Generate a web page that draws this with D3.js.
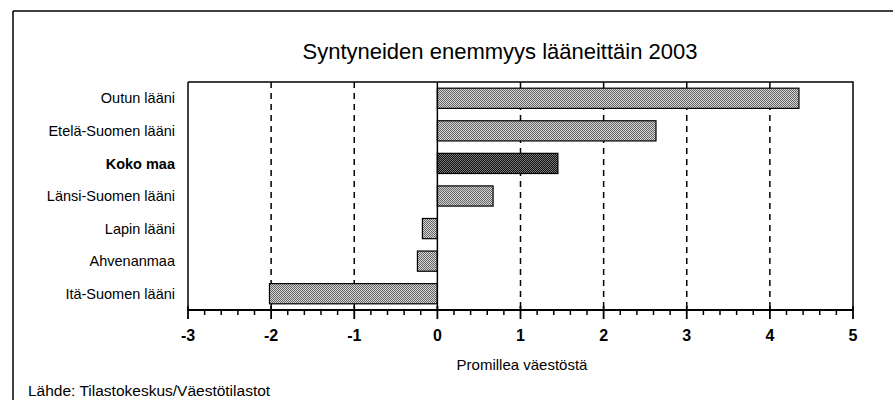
<!DOCTYPE html>
<html>
<head>
<meta charset="utf-8">
<script src="https://cdn.jsdelivr.net/npm/d3@7"></script>
<style>
  html, body { margin: 0; padding: 0; background: #fff; }
  text { font-family: "Liberation Sans", Arial, sans-serif; fill: #000; }
</style>
</head>
<body>
<svg id="chart" width="893" height="400"></svg>
<script>
// Regions and their natural increase (births minus deaths), per mille of population
const categories = ["Outun lääni", "Etelä-Suomen lääni", "Koko maa", "Länsi-Suomen lääni", "Lapin lääni", "Ahvenanmaa", "Itä-Suomen lääni"];
const values = [4.35, 2.63, 1.45, 0.67, -0.18, -0.24, -2.02];
const highlighted = ["Koko maa"];
const xTicks = [-3, -2, -1, 0, 1, 2, 3, 4, 5];
const titleText = "Syntyneiden enemmyys lääneittäin 2003";
const axisTitle = "Promillea väestöstä";
const sourceText = "Lähde: Tilastokeskus/Väestötilastot";

const svg = d3.select("#chart");
const plot = { left: 188, right: 853, top: 82, bottom: 310 };

// Stippled fills for the bars
const defs = svg.append("defs");
function stipple(id, bg, dot) {
  const p = defs.append("pattern").attr("id", id)
    .attr("width", 2).attr("height", 2).attr("patternUnits", "userSpaceOnUse");
  p.append("rect").attr("width", 2).attr("height", 2).attr("fill", bg);
  p.append("rect").attr("width", 1).attr("height", 1).attr("fill", dot);
  p.append("rect").attr("x", 1).attr("y", 1).attr("width", 1).attr("height", 1).attr("fill", dot);
}
stipple("lightDots", "#d4d4d4", "#666666");
stipple("darkDots", "#111111", "#777777");

// Outer frame (top and left edges)
svg.append("line").attr("x1", 13).attr("x2", 893).attr("y1", 11).attr("y2", 11)
  .attr("stroke", "#000").attr("stroke-width", 1.5);
svg.append("line").attr("x1", 13).attr("x2", 13).attr("y1", 11).attr("y2", 400)
  .attr("stroke", "#000").attr("stroke-width", 1.5);

const x = d3.scaleLinear().domain([xTicks[0], xTicks[xTicks.length - 1]]).range([plot.left, plot.right]);
const y = d3.scaleBand().domain(categories).range([plot.top, plot.bottom]).paddingInner(0.38).paddingOuter(0.19);

// Dashed gridlines
svg.append("g").selectAll("line")
  .data(xTicks.filter(t => t !== 0 && t !== xTicks[0] && t !== xTicks[xTicks.length - 1]))
  .join("line")
  .attr("x1", d => x(d)).attr("x2", d => x(d))
  .attr("y1", plot.top).attr("y2", plot.bottom)
  .attr("stroke", "#000").attr("stroke-width", 1.5)
  .attr("stroke-dasharray", "6,5");

// Plot frame: top and right edges
svg.append("path")
  .attr("d", `M${plot.left},${plot.top}H${plot.right}V${plot.bottom}`)
  .attr("fill", "none").attr("stroke", "#000").attr("stroke-width", 1.5);

// Bars
svg.append("g").selectAll("rect")
  .data(categories.map((c, i) => ({ c, v: values[i] })))
  .join("rect")
  .attr("x", d => x(Math.min(0, d.v)))
  .attr("width", d => Math.abs(x(d.v) - x(0)))
  .attr("y", d => y(d.c))
  .attr("height", y.bandwidth())
  .attr("fill", d => highlighted.includes(d.c) ? "url(#darkDots)" : "url(#lightDots)")
  .attr("stroke", "#000").attr("stroke-width", 1.2);

// Zero line
svg.append("line").attr("x1", x(0)).attr("x2", x(0))
  .attr("y1", plot.top).attr("y2", plot.bottom)
  .attr("stroke", "#000").attr("stroke-width", 1.5);

// Category labels
svg.append("g").selectAll("text")
  .data(categories)
  .join("text")
  .attr("x", 175)
  .attr("y", d => y(d) + y.bandwidth() / 2)
  .attr("dy", "0.35em")
  .attr("text-anchor", "end")
  .attr("font-size", 14.5)
  .attr("font-weight", d => highlighted.includes(d) ? "bold" : "normal")
  .text(d => d);

// Left edge of plot
svg.append("line").attr("x1", plot.left).attr("x2", plot.left)
  .attr("y1", plot.top).attr("y2", plot.bottom)
  .attr("stroke", "#000").attr("stroke-width", 1.5);

// Bottom axis with minor ticks
const minor = d3.range(xTicks[0], xTicks[xTicks.length - 1] + 1e-9, 0.2).map(v => +v.toFixed(1));
const axisG = svg.append("g").attr("transform", `translate(0,${plot.bottom})`);
axisG.append("line").attr("x1", plot.left).attr("x2", plot.right)
  .attr("stroke", "#000").attr("stroke-width", 2);
axisG.selectAll("line.minor")
  .data(minor.filter(v => !xTicks.includes(v)))
  .join("line").attr("class", "minor")
  .attr("x1", d => x(d)).attr("x2", d => x(d)).attr("y1", 0).attr("y2", 5)
  .attr("stroke", "#000").attr("stroke-width", 1.5);
axisG.selectAll("line.major")
  .data(xTicks)
  .join("line").attr("class", "major")
  .attr("x1", d => x(d)).attr("x2", d => x(d)).attr("y1", -4).attr("y2", 9)
  .attr("stroke", "#000").attr("stroke-width", 1.8);
axisG.selectAll("text")
  .data(xTicks)
  .join("text")
  .attr("x", d => x(d)).attr("y", 31)
  .attr("text-anchor", "middle")
  .attr("font-size", 16).attr("font-weight", "bold")
  .text(d => d);

// Titles
svg.append("text").attr("x", 500).attr("y", 59).attr("text-anchor", "middle")
  .attr("font-size", 22).text(titleText);
svg.append("text").attr("x", 522).attr("y", 370).attr("text-anchor", "middle")
  .attr("font-size", 15).text(axisTitle);
svg.append("text").attr("x", 28).attr("y", 396)
  .attr("font-size", 15.5).text(sourceText);
</script>
</body>
</html>
